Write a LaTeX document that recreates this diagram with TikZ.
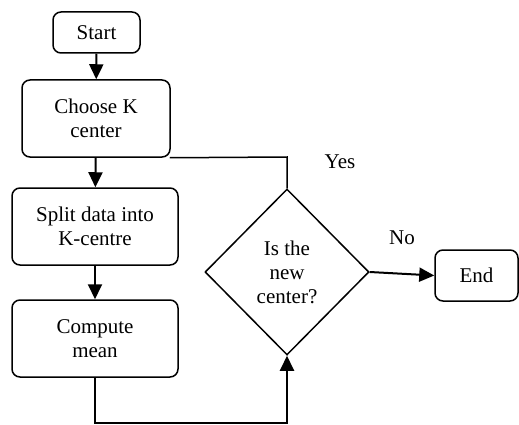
\documentclass[tikz,border=0pt]{standalone}
\usepackage{fontspec}
\setmainfont{Liberation Serif}
\usetikzlibrary{arrows.meta,shapes.geometric}
\begin{document}
\begin{tikzpicture}[x=1pt,y=-1pt,
  every node/.style={font=\fontsize{21}{24}\selectfont},
  proc/.style={draw,line width=1.5pt,rounded corners=8pt,align=center,inner sep=0pt},
  conn/.style={line width=2pt,-{Triangle[length=15pt,width=14pt]}},
  plain/.style={line width=1.5pt}]
\useasboundingbox (0,0) rectangle (519,425);
\node[proc,minimum width=87pt,minimum height=41pt] (start) at (96.5,32.5) {Start};
\node[proc,minimum width=148pt,minimum height=77pt] (choose) at (96,118.5) {Choose K\\center};
\node[proc,minimum width=166pt,minimum height=77pt] (split) at (95,226.5) {Split data into\\K-centre};
\node[proc,minimum width=166pt,minimum height=77pt] (mean) at (95,338.5) {Compute\\mean};
\node[draw,line width=1.5pt,diamond,minimum width=164pt,minimum height=166pt,inner sep=0pt,align=center] (dec) at (287,272) {Is the\\new\\center?};
\node[proc,minimum width=83pt,minimum height=51pt] (end) at (476.5,275.5) {End};
\node (yes) at (340,162) {Yes};
\node (no) at (402,238) {No};
\coordinate (c1) at (287,157);
\coordinate (c2) at (95,423);
\coordinate (c3) at (287,423);
\draw[conn] (start) -- (choose);
\draw[conn] (choose) -- (split);
\draw[conn] (split) -- (mean);
\draw[plain] (choose.south east) ++(-1,0) -- (c1) -- (dec.north);
\draw[conn] (mean.south) -- (c2) -- (c3) -- (dec.south);
\draw[conn] (dec.east) -- (end.west);
\end{tikzpicture}
\end{document}
